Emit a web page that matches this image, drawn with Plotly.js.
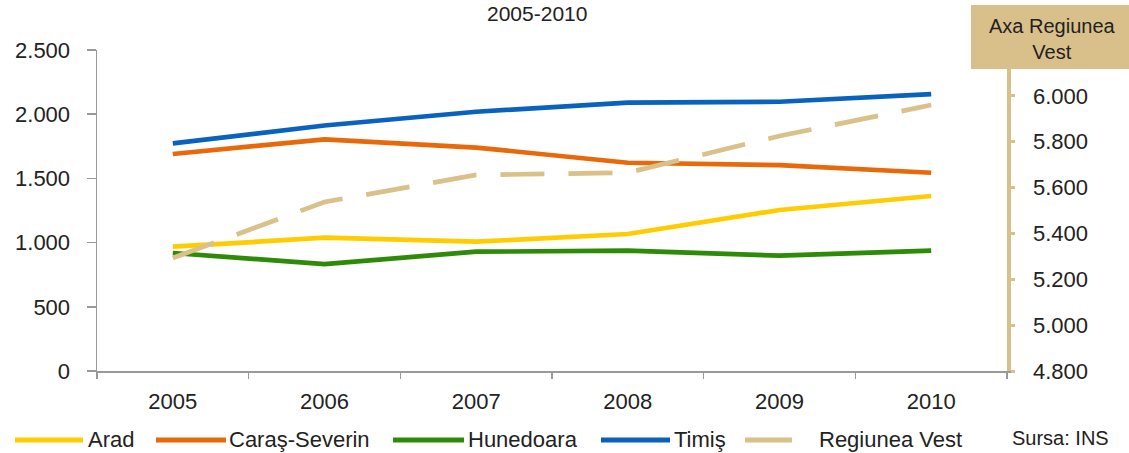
<!DOCTYPE html>
<html>
<head>
<meta charset="utf-8">
<script src="https://cdn.plot.ly/plotly-3.0.1.min.js"></script>
<style>
  html, body { margin: 0; padding: 0; background: #ffffff; }
  #chart { width: 1129px; height: 453px; }
</style>
</head>
<body>
<div id="chart"></div>
<script>
// ---- Data ----
const years = ['2005', '2006', '2007', '2008', '2009', '2010'];
const arad = [968, 1038, 1007, 1067, 1254, 1363];
const carasSeverin = [1690, 1804, 1740, 1622, 1604, 1544];
const hunedoara = [919, 833, 929, 937, 898, 937];
const timis = [1773, 1912, 2019, 2090, 2097, 2157];
const regiuneaVest = [5293, 5537, 5655, 5665, 5825, 5960];
const leftTicks = [0, 500, 1000, 1500, 2000, 2500];
const rightTicks = [4800, 5000, 5200, 5400, 5600, 5800, 6000];
const seriesNames = ['Arad', 'Caraş-Severin', 'Hunedoara', 'Timiş', 'Regiunea Vest'];
const titleText = '2005-2010';
const axisBoxText = 'Axa Regiunea<br>Vest';
const sourceText = 'Sursa: INS';

// ---- Styles ----
const colors = ['#FFCC00', '#E8690A', '#2E8B08', '#0862BE', '#DAC089'];
const FONT = 'Liberation Sans, Arial, sans-serif';
const TXT = '#222222';
const W = 1129, H = 453;
const plotL = 97, plotR = 1007, plotT = 50, plotB = 371;
const px = x => (x - plotL) / (plotR - plotL);
const py = y => (plotB - y) / (plotB - plotT);

const leftSeries = [arad, carasSeverin, hunedoara, timis];
const traces = leftSeries.map((vals, i) => ({
  type: 'scatter', mode: 'lines', name: seriesNames[i],
  x: years, y: vals, yaxis: 'y',
  line: { color: colors[i], width: 4.7 },
  showlegend: false, hoverinfo: 'skip'
}));
traces.push({
  type: 'scatter', mode: 'lines', name: seriesNames[4],
  x: years, y: regiuneaVest, yaxis: 'y2',
  line: { color: colors[4], width: 4.7, dash: '44px,24px' },
  showlegend: false, hoverinfo: 'skip'
});

// ---- Custom legend (layout only) ----
const legendSwatch = [[15, 83], [156, 226], [393, 464], [601, 670], [745, 792]];
const legendTextX = [86, 227, 466, 672, 817];
const legendY = 439;
const shapes = [];
const annotations = [];
seriesNames.forEach((n, i) => {
  shapes.push({
    type: 'line', xref: 'paper', yref: 'paper',
    x0: px(legendSwatch[i][0]), x1: px(legendSwatch[i][1]),
    y0: py(legendY + 1), y1: py(legendY + 1),
    line: { color: colors[i], width: 5 }
  });
  annotations.push({
    xref: 'paper', yref: 'paper', x: px(legendTextX[i]), y: py(legendY),
    xanchor: 'left', yanchor: 'middle', text: n, showarrow: false,
    font: { family: FONT, size: 22, color: TXT }
  });
});

// Axis box on the right
shapes.push({
  type: 'rect', xref: 'paper', yref: 'paper', layer: 'above',
  x0: px(971), x1: px(1129), y0: py(69), y1: py(5),
  fillcolor: '#D9C08A', line: { width: 0 }
});
annotations.push({
  xref: 'paper', yref: 'paper', x: px(1052), y: py(39),
  xanchor: 'center', yanchor: 'middle', text: axisBoxText, showarrow: false,
  font: { family: FONT, size: 20, color: TXT }
});
// Title
annotations.push({
  xref: 'paper', yref: 'paper', x: px(537), y: py(14),
  xanchor: 'center', yanchor: 'middle', text: titleText, showarrow: false,
  font: { family: FONT, size: 21, color: TXT }
});
// Source
annotations.push({
  xref: 'paper', yref: 'paper', x: px(1010), y: py(438),
  xanchor: 'left', yanchor: 'middle', text: sourceText, showarrow: false,
  font: { family: FONT, size: 20, color: TXT }
});

const layout = {
  width: W, height: H,
  margin: { l: plotL, r: W - plotR, t: plotT, b: H - plotB, pad: 0 },
  paper_bgcolor: '#ffffff', plot_bgcolor: '#ffffff',
  separators: ',.',
  showlegend: false,
  font: { family: FONT, size: 22, color: TXT },
  xaxis: {
    type: 'category', range: [-0.5, 5.5],
    showgrid: false, zeroline: false,
    showline: true, linecolor: '#999', linewidth: 1.5,
    ticks: 'outside', tickson: 'boundaries', ticklen: 6, tickcolor: '#999', tickwidth: 1.5,
    ticklabelstandoff: 10,
    tickfont: { family: FONT, size: 22, color: TXT }
  },
  yaxis: {
    range: [0, 2500], tickvals: leftTicks,
    separatethousands: true, tickformat: ',d',
    showgrid: false, zeroline: false,
    showline: true, linecolor: '#999', linewidth: 1.5,
    ticks: 'outside', ticklen: 9, tickcolor: '#999', tickwidth: 1.5,
    ticklabelstandoff: 12,
    tickfont: { family: FONT, size: 22, color: TXT }
  },
  yaxis2: {
    overlaying: 'y', side: 'right',
    range: [4800, 6200], tickvals: rightTicks,
    separatethousands: true, tickformat: ',d',
    showgrid: false, zeroline: false,
    showline: true, linecolor: '#D9C08A', linewidth: 3.5,
    ticks: 'outside', ticklen: 4, tickcolor: '#D9C08A', tickwidth: 3,
    ticklabelstandoff: 14,
    tickfont: { family: FONT, size: 22, color: TXT }
  },
  shapes: shapes,
  annotations: annotations
};

Plotly.newPlot('chart', traces, layout, { staticPlot: true, displayModeBar: false });
</script>
</body>
</html>
